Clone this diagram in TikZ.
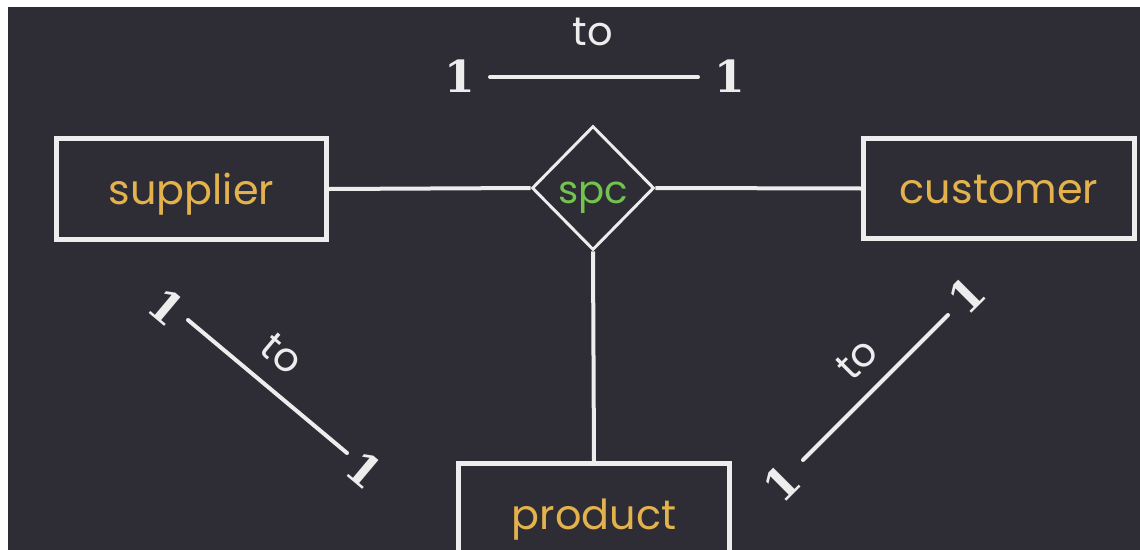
\documentclass[tikz,border=0pt]{standalone}
\usepackage{fontspec}
\setmainfont{Poppins}
\newfontfamily\onefont{DejaVu Serif}
\usetikzlibrary{shapes.geometric}
\definecolor{bg}{HTML}{2E2D36}
\definecolor{ent}{HTML}{E3B24C}
\definecolor{relc}{HTML}{72C44E}
\definecolor{ln}{HTML}{EDEDED}
\begin{document}
\begin{tikzpicture}[x=0.75pt,y=-0.75pt,
  entity/.style={draw=ln,line width=3.6pt,inner sep=0pt,minimum width=203pt,minimum height=75.5pt,text=ent,text height=26pt,text depth=3.5pt,font=\fontsize{31}{36}\selectfont},
  relbox/.style={draw=ln,line width=2.2pt,diamond,inner sep=0pt,minimum width=91.5pt,minimum height=93pt,text=relc,text height=26pt,text depth=3.5pt,font=\fontsize{29}{34}\selectfont},
  conn/.style={draw=ln,line width=3pt},
  card/.style={text=ln,inner sep=0pt,font=\onefont\bfseries\fontsize{33}{38}\selectfont},
  tolbl/.style={text=ln,inner sep=0pt,font=\fontsize{30}{34}\selectfont}]
\useasboundingbox (0,0) rectangle (1140,550);
\fill[white] (0,0) rectangle (1140,550);
\fill[bg] (8,7) rectangle (1140,550);
% entities and relationship
\node[entity] (sup) at (191.5,189) {supplier};
\node[entity] (cus) at (999,188.5) {customer};
\node[entity] (pro) at (594,514) {product};
\node[relbox] (spc) at (593,188) {spc};
\draw[conn] (sup.east) -- (spc.west);
\draw[conn] (spc.east) -- (cus.west);
\draw[conn] (spc.south) -- (pro.north);
% top cardinality
\node[tolbl,anchor=base] (ttop) at (593,45) {to};
\node[card] (tone1) at (460,76.5) {1};
\node[card] (tone2) at (730,76.5) {1};
\coordinate (ta) at (490,77);
\coordinate (tb) at (698,77);
\draw[conn,line cap=round] (ta) -- (tb);
% left cardinality
\node[card,rotate=-40] (lone1) at (167,307) {1};
\node[card,rotate=-40] (lone2) at (365,470) {1};
\node[tolbl,rotate=-40] (lto) at (282,354) {to};
\coordinate (la) at (188,320);
\coordinate (lb) at (347,453);
\draw[conn,line cap=round] (la) -- (lb);
% right cardinality
\node[card,rotate=45] (rone1) at (782,483) {1};
\node[card,rotate=45] (rone2) at (967,295) {1};
\node[tolbl,rotate=45] (rto) at (857,359) {to};
\coordinate (ra) at (803,460);
\coordinate (rb) at (948,315);
\draw[conn,line cap=round] (ra) -- (rb);
\end{tikzpicture}
\end{document}
